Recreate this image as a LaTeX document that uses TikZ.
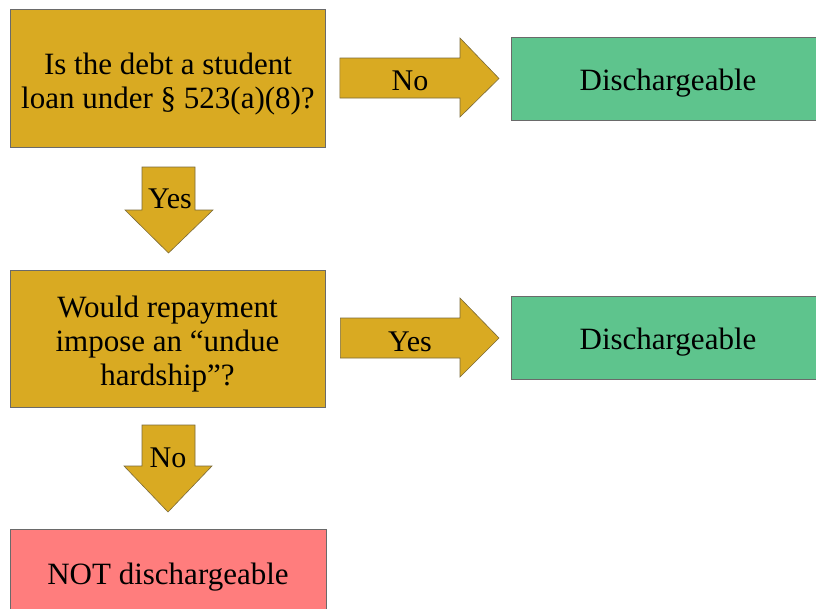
\documentclass[tikz,border=0pt]{standalone}
\usepackage{fontspec}
\setmainfont{Liberation Serif}
\definecolor{gold}{HTML}{D9AA22}
\definecolor{goldedge}{HTML}{7A6A3A}
\definecolor{greenbox}{HTML}{5EC48D}
\definecolor{redbox}{HTML}{FF7D7D}
\definecolor{edge}{HTML}{6A6A6A}
\begin{document}
\begin{tikzpicture}[x=1pt,y=-1pt,
  box/.style={draw=edge,line width=0.8pt,rectangle,inner sep=0pt},
  qbox/.style={box,fill=gold,minimum width=315,minimum height=138},
  gbox/.style={box,fill=greenbox,minimum width=315,minimum height=83},
  rbox/.style={box,fill=redbox,minimum width=316,minimum height=100},
  txt/.style={align=center,inner sep=0pt,font=\fontsize{31}{34}\selectfont},
  blockarrow/.style={fill=gold,draw=goldedge,line width=0.6pt,line join=miter},
  alabel/.style={inner sep=0pt,font=\fontsize{30}{32}\selectfont}]
\useasboundingbox (0,0) rectangle (816,608);
\clip (0,0) rectangle (816,608);
\node[qbox] (q1) at (168,78) {};
\node[txt] (t1) at ([yshift=-6]q1.center) {Is the debt a student\\loan under § 523(a)(8)?};
\node[gbox,anchor=west] (d1) at (511,78.5) {};
\node[txt] (t2) at (668,83) {Dischargeable};
\node[qbox,minimum height=137] (q2) at (167.5,338.5) {};
\node[txt] (t3) at ([yshift=-6]q2.center) {Would repayment\\impose an “undue\\hardship”?};
\node[gbox,anchor=west] (d2) at (511,337.5) {};
\node[txt] (t4) at (668,342) {Dischargeable};
\node[rbox,anchor=north] (nd) at (168,529) {};
\node[txt] (t5) at (168,577) {NOT dischargeable};
% right block arrow 1
\draw[blockarrow] ([xshift=14]q1.east |- 0,58) -- (460,58) -- (460,38) -- ([xshift=-12]d1.west) -- (460,117) -- (460,98) -- ([xshift=14]q1.east |- 0,98) -- cycle;
\node[alabel] (l1) at (410,81) {No};
% right block arrow 2
\draw[blockarrow] ([xshift=15]q2.east |- 0,318) -- (460,318) -- (460,298) -- ([xshift=-12]d2.west |- 0,338) -- (460,377) -- (460,358) -- ([xshift=15]q2.east |- 0,358) -- cycle;
\node[alabel] (l2) at (410,342) {Yes};
% down block arrow 1
\draw[blockarrow] (142,167) -- (195,167) -- (195,210) -- (213,210) -- (168.5,253) -- (125,210) -- (142,210) -- cycle;
\node[alabel] (l3) at (170,199) {Yes};
% down block arrow 2
\draw[blockarrow] (142,425) -- (195,425) -- (195,466) -- (212,466) -- (168,512) -- (124,466) -- (142,466) -- cycle;
\node[alabel] (l4) at (168,458) {No};
\end{tikzpicture}
\end{document}
